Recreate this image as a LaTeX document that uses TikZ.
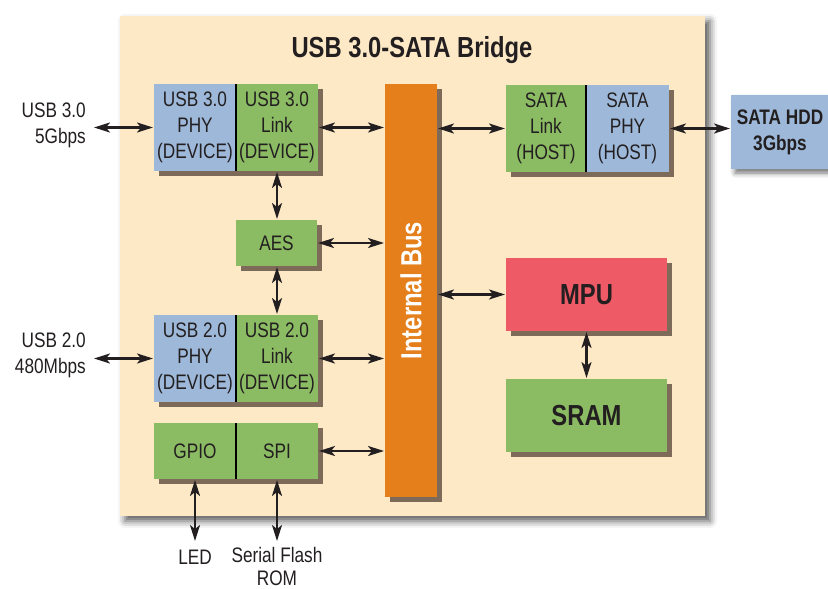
\documentclass[tikz,border=0pt]{standalone}
\usepackage{fontspec}
\setmainfont{Liberation Sans}[FakeStretch=0.82]
\usetikzlibrary{shadows,shadows.blur,arrows.meta}
\definecolor{bgc}{HTML}{FDE9C6}
\definecolor{bluec}{HTML}{9DB8D9}
\definecolor{greenc}{HTML}{8BBB63}
\definecolor{orangec}{HTML}{E47F1C}
\definecolor{redc}{HTML}{EF5A67}
\definecolor{shadc}{HTML}{7D6A58}
\definecolor{txtc}{HTML}{231F20}
\tikzset{
  blk/.style={inner sep=0pt, outer sep=0pt, align=center, text=txtc,
    font=\fontsize{21}{26}\selectfont,
    drop shadow={shadow xshift=4.5pt, shadow yshift=-4.5pt, fill=shadc, opacity=1}},
  bluebox/.style={blk, fill=bluec},
  greenbox/.style={blk, fill=greenc},
  big/.style={font=\bfseries\fontsize{29}{34}\selectfont},
  lbl/.style={inner sep=0pt, text=txtc, font=\fontsize{21}{26}\selectfont},
  tipc/.tip={Stealth[length=16pt,width=10pt,inset=4pt]},
  conn/.style={line width=2.2pt, draw=txtc, tipc-tipc,
    shorten <=1pt, shorten >=1pt},
  divider/.style={line width=1.6pt, draw=black}
}
\begin{document}
\begin{tikzpicture}[x=1pt,y=-1pt]
\useasboundingbox (0,0) rectangle (828,589);
% main bridge
\node[inner sep=0pt, outer sep=0pt, fill=bgc, minimum width=585pt, minimum height=500pt,
  blur shadow={shadow xshift=5pt, shadow yshift=-5pt, shadow blur radius=7pt, shadow opacity=65}]
  (main) at (412.5,266) {};
\node[big, text=txtc] (title) at (412,50) {USB 3.0-SATA Bridge};
% left column
\node[bluebox, minimum width=82pt, minimum height=87pt] (u3phy) at (195,127.5) {USB 3.0\\PHY\\(DEVICE)};
\node[greenbox, minimum width=82pt, minimum height=87pt] (u3link) at (277,127.5) {USB 3.0\\Link\\(DEVICE)};
\draw[divider] (u3link.north west) -- (u3link.south west);
\node[greenbox, minimum width=81pt, minimum height=46pt] (aes) at (276.5,243) {AES};
\node[bluebox, minimum width=82pt, minimum height=87pt] (u2phy) at (195,358.5) {USB 2.0\\PHY\\(DEVICE)};
\node[greenbox, minimum width=82pt, minimum height=87pt] (u2link) at (277,358.5) {USB 2.0\\Link\\(DEVICE)};
\draw[divider] (u2link.north west) -- (u2link.south west);
\node[greenbox, minimum width=82pt, minimum height=56pt] (gpio) at (195,451) {GPIO};
\node[greenbox, minimum width=82pt, minimum height=56pt] (spi) at (277,451) {SPI};
\draw[divider] (spi.north west) -- (spi.south west);
% bus
\node[blk, fill=orangec, minimum width=52pt, minimum height=413pt] (bus) at (411,290.5) {};
\node[big, text=white, rotate=90] (buslbl) at (bus.center) {Internal Bus};
% right column
\node[greenbox, minimum width=80pt, minimum height=87pt] (slink) at (546,128.5) {SATA\\Link\\(HOST)};
\node[bluebox, minimum width=83pt, minimum height=87pt] (sphy) at (627.5,128.5) {SATA\\PHY\\(HOST)};
\draw[divider] (sphy.north west) -- (sphy.south west);
\node[inner sep=0pt, outer sep=0pt, fill=bluec, minimum width=98pt, minimum height=74pt, align=center,
  text=txtc, font=\bfseries\fontsize{21}{26}\selectfont,
  blur shadow={shadow xshift=4pt, shadow yshift=-4pt, shadow blur radius=5pt, shadow opacity=55}]
  (hdd) at (780,132) {SATA HDD\\3Gbps};
\node[blk, big, fill=redc, minimum width=161pt, minimum height=73pt] (mpu) at (586.5,294.5) {MPU};
\node[blk, big, fill=greenc, minimum width=161pt, minimum height=73pt] (sram) at (586.5,415.5) {SRAM};
% external labels
\node[lbl, align=right, anchor=east] (l3) at (86,125) {USB 3.0\\5Gbps};
\node[lbl, align=right, anchor=east] (l2) at (86,355) {USB 2.0\\480Mbps};
\node[lbl] (led) at (195,557) {LED};
\node[lbl, align=center, anchor=north, font=\fontsize{21}{23}\selectfont] (rom) at (277,547) {Serial Flash\\ROM};
\coordinate (u3in) at (93,127.5);
\coordinate (u2in) at (93,358.5);
\coordinate (ledc) at (195,542);
\coordinate (romc) at (277,542);
% connectors
\draw[conn] (u3in) -- (u3phy.west);
\draw[conn] (u3link.east) -- (bus.west |- u3link.east);
\draw[conn] (u3link.south) -- (u3link.south |- aes.north);
\draw[conn] (aes.east) -- (bus.west |- aes.east);
\draw[conn] (u2link.north |- aes.south) -- (u2link.north);
\draw[conn] (u2in) -- (u2phy.west);
\draw[conn] (u2link.east) -- (bus.west |- u2link.east);
\draw[conn] (spi.east) -- (bus.west |- spi.east);
\draw[conn] (gpio.south) -- (ledc);
\draw[conn] (spi.south) -- (romc);
\draw[conn] (bus.east |- slink.west) -- (slink.west);
\draw[conn] (sphy.east) -- (hdd.west |- sphy.east);
\draw[conn] (bus.east |- mpu.west) -- (mpu.west);
\draw[conn] (mpu.south) -- (sram.north);
\end{tikzpicture}
\end{document}
